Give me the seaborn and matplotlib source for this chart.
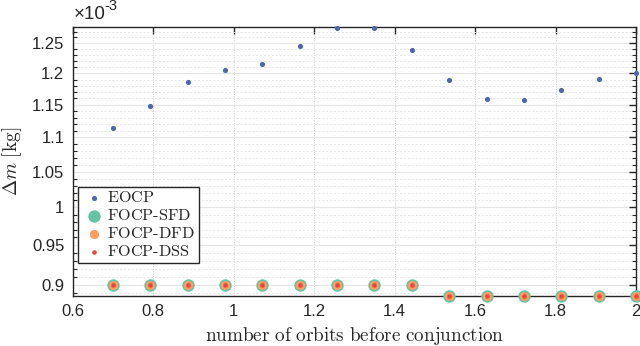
import numpy as np
import pandas as pd
import matplotlib
matplotlib.use("Agg")
import matplotlib.pyplot as plt
from matplotlib.ticker import FixedLocator, FuncFormatter, NullFormatter
import seaborn as sns

# Number of orbits before conjunction
orbits = [0.700, 0.793, 0.886, 0.979, 1.071, 1.164, 1.257, 1.350,
          1.443, 1.536, 1.629, 1.721, 1.814, 1.907, 2.000]

# Delta m in units of 1e-3 kg
eocp = [1.1136, 1.1474, 1.1854, 1.2055, 1.2149, 1.2450, 1.2770, 1.2770,
        1.2383, 1.1891, 1.1594, 1.1574, 1.1726, 1.1913, 1.2006]
focp_sfd = [0.900, 0.900, 0.900, 0.900, 0.900, 0.900, 0.900, 0.900,
            0.900, 0.8866, 0.8866, 0.8866, 0.8866, 0.8866, 0.8866]
focp_dfd = list(focp_sfd)
focp_dss = list(focp_sfd)

y_ticks = [0.9, 0.95, 1.0, 1.05, 1.1, 1.15, 1.2, 1.25]
x_ticks = [0.6, 0.8, 1.0, 1.2, 1.4, 1.6, 1.8, 2.0]

sns.set_theme(style="white")
sans = ["Liberation Sans", "DejaVu Sans"]
plt.rcParams["font.family"] = sans
plt.rcParams["mathtext.fontset"] = "cm"

df = pd.DataFrame({"orbits": orbits, "EOCP": eocp, "FOCP-SFD": focp_sfd,
                   "FOCP-DFD": focp_dfd, "FOCP-DSS": focp_dss})

fig = plt.figure(figsize=(6.4, 3.46), dpi=100)
ax = fig.add_axes([0.1136, 0.1445, 0.8801, 0.7765])

styles = [
    ("EOCP", "#4d68a9", 14),
    ("FOCP-SFD", "#66c2a5", 80),
    ("FOCP-DFD", "#fc9d62", 44),
    ("FOCP-DSS", "#e8473a", 11),
]
for name, color, size in styles:
    sns.scatterplot(data=df, x="orbits", y=name, ax=ax, color=color, s=size,
                    linewidth=0, clip_on=False, zorder=3, label=name)

ax.set_yscale("log")
ax.set_xlim(0.6, 2.0)
ax.set_ylim(0.8866, 1.2775)

ax.yaxis.set_major_locator(FixedLocator(y_ticks))
ax.yaxis.set_major_formatter(FuncFormatter(lambda v, p: "%g" % v))
ax.yaxis.set_minor_locator(FixedLocator(np.arange(0.89, 1.28, 0.01)))
ax.yaxis.set_minor_formatter(NullFormatter())
ax.xaxis.set_major_locator(FixedLocator(x_ticks))
ax.xaxis.set_major_formatter(FuncFormatter(lambda v, p: "%g" % v))

ax.grid(True, which="major", axis="y", color="#e6e6e6", linewidth=0.9, linestyle="-")
ax.grid(True, which="minor", axis="y", color="#e6e6e6", linewidth=0.7, linestyle=(0, (2, 2)))
ax.grid(True, which="major", axis="x", color="#c8c8c8", linewidth=0.7, linestyle=(0, (1, 1.5)))
ax.set_axisbelow(True)

for sp in ax.spines.values():
    sp.set_color("#262626")
    sp.set_linewidth(1.0)

ax.tick_params(axis="both", which="major", direction="in", length=5, width=1,
               top=True, right=True, labelsize=12, colors="#262626", pad=6)
ax.tick_params(axis="y", which="minor", direction="in", length=3, width=0.8,
               left=True, right=True, colors="#262626")
ax.tick_params(axis="x", which="minor", bottom=False, top=False)

ax.set_xlabel(r"$\mathrm{number\ of\ orbits\ before\ conjunction}$", fontsize=13.8,
              color="#262626", labelpad=4)
ax.set_ylabel(r"$\Delta m\ [\mathrm{kg}]$", fontsize=14, color="#262626", labelpad=6)

# Scale factor of the y values, drawn in the tick-label font
ax.annotate("\u00d710", xy=(0.0, 1.0), xycoords="axes fraction",
            xytext=(1, 3), textcoords="offset points", fontsize=13.5,
            color="#262626", ha="left", va="bottom", family=sans)
ax.annotate("-3", xy=(0.0, 1.0), xycoords="axes fraction",
            xytext=(23, 10), textcoords="offset points", fontsize=10.5,
            color="#262626", ha="left", va="bottom", family=sans)

handles, labels = ax.get_legend_handles_labels()
labels = [r"$\mathrm{%s}$" % l.replace("-", "{\\text{-}}") for l in labels]
leg = ax.legend(handles, labels, loc="upper left", bbox_to_anchor=(0.009, 0.407),
                borderaxespad=0, frameon=True, fancybox=False, framealpha=1,
                edgecolor="#262626", fontsize=11.7, handletextpad=0.0,
                borderpad=0.22, labelspacing=0.18, handlelength=1.6)
leg.get_frame().set_linewidth(1.0)

fig.savefig("out.png", dpi=100)
